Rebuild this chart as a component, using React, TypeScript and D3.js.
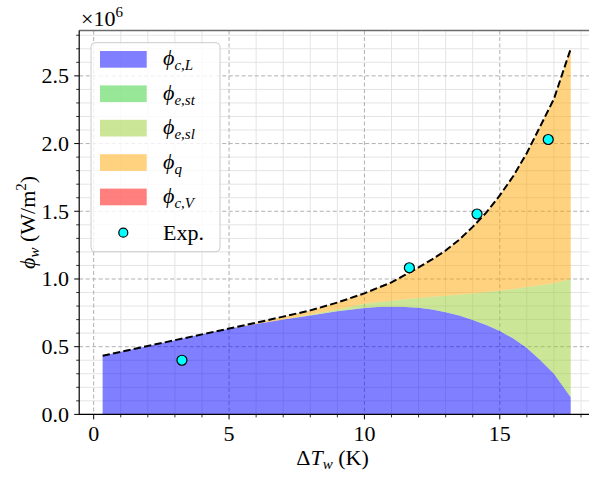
import React from "react";
import * as d3 from "d3";

const xVals = [0.33, 1, 2, 3, 4, 5, 6, 7, 8, 9, 10, 10.5, 11, 11.5, 12, 12.5, 13, 13.5, 14, 14.5, 15, 15.5, 16, 16.5, 17, 17.62];
const phiCL = [0.433, 0.462, 0.505, 0.548, 0.591, 0.632, 0.668, 0.700, 0.730, 0.762, 0.785, 0.793, 0.795, 0.793, 0.787, 0.774, 0.755, 0.730, 0.698, 0.660, 0.616, 0.560, 0.490, 0.400, 0.300, 0.126];
const phiESt = [0, 0, 0, 0, 0, 0, 0, 0, 0, 0, 0, 0, 0, 0, 0, 0, 0, 0, 0, 0, 0, 0, 0, 0, 0, 0];
const phiESl = [0, 0, 0, 0, 0, 0, 0, 0.001, 0.005, 0.013, 0.033, 0.037, 0.045, 0.057, 0.073, 0.095, 0.122, 0.155, 0.195, 0.244, 0.298, 0.366, 0.450, 0.553, 0.668, 0.874];
const phiQ = [0, 0, 0, 0, 0, 0.002, 0.009, 0.021, 0.033, 0.051, 0.076, 0.105, 0.135, 0.180, 0.225, 0.276, 0.333, 0.405, 0.492, 0.586, 0.703, 0.834, 0.990, 1.177, 1.362, 1.700];
const phiCV = [0, 0, 0, 0, 0, 0, 0, 0, 0, 0, 0, 0, 0, 0, 0, 0, 0, 0, 0, 0, 0, 0, 0, 0, 0, 0];

const expX = [3.26, 11.66, 14.16, 16.79];
const expY = [0.40, 1.083, 1.48, 2.03];

const xMajor = [0, 5, 10, 15];
const yMajor = [0, 0.5, 1.0, 1.5, 2.0, 2.5];
const yTickLabels = ["0.0", "0.5", "1.0", "1.5", "2.0", "2.5"];

const series = [
  { values: phiCL, color: "#0000ff", sub: "c,L" },
  { values: phiESt, color: "#32cd32", sub: "e,st" },
  { values: phiESl, color: "#9acd32", sub: "e,sl" },
  { values: phiQ, color: "#ffa500", sub: "q" },
  { values: phiCV, color: "#ff0000", sub: "c,V" },
];

const W = 589;
const H = 480;
const FONT = "'Liberation Serif', 'DejaVu Serif', serif";
const FS = 22;
const SUB = 15;

export default function App() {
  const x = d3.scaleLinear().domain([-0.535, 18.48]).range([79.2, 594]);
  const y = d3.scaleLinear().domain([0, 2.835]).range([414.4, 30.5]);
  const [x0, x1] = x.range();
  const [yb, yt] = y.range();

  const n = xVals.length;
  const base = new Array(n).fill(0);
  const layers = series.map((s) => {
    const lo = base.slice();
    const hi = lo.map((v, i) => v + s.values[i]);
    for (let i = 0; i < n; i++) base[i] = hi[i];
    return { ...s, lo, hi };
  });
  const total = base.slice();

  const xMinor = d3.range(0, 19, 1).filter((v) => !xMajor.includes(v));
  const yMinor = d3
    .range(0, 29, 1)
    .map((v) => v / 10)
    .filter((v) => !yMajor.some((m) => Math.abs(m - v) < 1e-9) && v <= 2.83);

  const line = d3
    .line<number>()
    .x((_, i) => x(xVals[i]))
    .y((v) => y(v));

  const legendRows = [0, 1, 2, 3, 4];
  const rowY = (k: number) => 59.3 + k * 34.4;

  return (
    <svg width={W} height={H} style={{ position: "absolute", left: 0, top: 0, background: "#fff", fontFamily: FONT }}>
      <defs>
        <clipPath id="plotclip">
          <rect x={x0} y={yt} width={x1 - x0} height={yb - yt} />
        </clipPath>
      </defs>
      <g clipPath="url(#plotclip)">
        {xMinor.map((v) => (
          <line key={"xm" + v} x1={x(v)} x2={x(v)} y1={yt} y2={yb} stroke="#e4e4e4" strokeWidth={1} />
        ))}
        {yMinor.map((v) => (
          <line key={"ym" + v} x1={x0} x2={x1} y1={y(v)} y2={y(v)} stroke="#e4e4e4" strokeWidth={1} />
        ))}
        {xMajor.map((v) => (
          <line key={"xM" + v} x1={x(v)} x2={x(v)} y1={yt} y2={yb} stroke="#b0b0b0" strokeWidth={1} strokeDasharray="4,2.5" />
        ))}
        {yMajor.map((v) => (
          <line key={"yM" + v} x1={x0} x2={x1} y1={y(v)} y2={y(v)} stroke="#b0b0b0" strokeWidth={1} strokeDasharray="4,2.5" />
        ))}
        {layers.map((l, k) => {
          const a = d3
            .area<number>()
            .x((_, i) => x(xVals[i]))
            .y0((_, i) => y(l.lo[i]))
            .y1((_, i) => y(l.hi[i]));
          return <path key={"a" + k} d={a(xVals) || ""} fill={l.color} fillOpacity={0.5} stroke="none" />;
        })}
        <path d={line(total) || ""} fill="none" stroke="#000" strokeWidth={2} strokeDasharray="7.4,3.2" />
        {expX.map((v, i) => (
          <circle key={"e" + i} cx={x(v)} cy={y(expY[i])} r={5} fill="#00ffff" stroke="#000" strokeWidth={1.2} />
        ))}
      </g>
      <line x1={x0} x2={x1} y1={yt} y2={yt} stroke="#6b6b6b" strokeWidth={1.6} />
      <line x1={x1} x2={x1} y1={yt} y2={yb} stroke="#6b6b6b" strokeWidth={1.6} />
      <line x1={x0} x2={x0} y1={yt} y2={yb + 0.5} stroke="#000" strokeWidth={1.2} />
      <line x1={x0} x2={x1} y1={yb} y2={yb} stroke="#000" strokeWidth={1.2} />
      {xMajor.map((v) => (
        <g key={"xt" + v}>
          <line x1={x(v)} x2={x(v)} y1={yb} y2={yb + 5} stroke="#000" strokeWidth={1} />
          <text x={x(v)} y={441} textAnchor="middle" fontSize={FS}>{v}</text>
        </g>
      ))}
      {xMinor.map((v) => (
        <line key={"xmt" + v} x1={x(v)} x2={x(v)} y1={yb} y2={yb + 3} stroke="#000" strokeWidth={0.8} />
      ))}
      {yMajor.map((v, i) => (
        <g key={"yt" + v}>
          <line x1={x0 - 5} x2={x0} y1={y(v)} y2={y(v)} stroke="#000" strokeWidth={1} />
          <text x={69} y={y(v) + 7.3} textAnchor="end" fontSize={FS}>{yTickLabels[i]}</text>
        </g>
      ))}
      {yMinor.map((v) => (
        <line key={"ymt" + v} x1={x0 - 3} x2={x0} y1={y(v)} y2={y(v)} stroke="#000" strokeWidth={0.8} />
      ))}
      <text x={81} y={26} fontSize={FS}>
        ×10<tspan fontSize={SUB} dy={-9}>6</tspan>
      </text>
      <text x={(x0 + x1) / 2 - 4} y={465} textAnchor="middle" fontSize={FS}>
        Δ<tspan fontStyle="italic">T</tspan>
        <tspan fontStyle="italic" fontSize={SUB} dy={4}>w</tspan>
        <tspan dy={-4}> (K)</tspan>
      </text>
      <text transform={`translate(35,${(yt + yb) / 2}) rotate(-90)`} textAnchor="middle" fontSize={FS}>
        <tspan fontStyle="italic">ϕ</tspan>
        <tspan fontStyle="italic" fontSize={SUB} dy={4}>w</tspan>
        <tspan dy={-4}> (W/m</tspan>
        <tspan fontSize={SUB} dy={-9}>2</tspan>
        <tspan dy={9}>)</tspan>
      </text>
      <rect x={91} y={42.7} width={129} height={209} rx={4} fill="#fff" fillOpacity={0.8} stroke="#cccccc" strokeWidth={1} />
      {legendRows.map((k) => (
        <g key={"lg" + k}>
          <rect x={100} y={rowY(k) - 8.3} width={46.7} height={16.7} fill={series[k].color} fillOpacity={0.5} />
          <text x={163} y={rowY(k) + 6} fontSize={FS}>
            <tspan fontStyle="italic">ϕ</tspan>
            <tspan fontStyle="italic" fontSize={SUB} dy={5}>{series[k].sub}</tspan>
          </text>
        </g>
      ))}
      <circle cx={123.3} cy={232.7} r={4.5} fill="#00ffff" stroke="#000" strokeWidth={1.2} />
      <text x={163} y={240} fontSize={FS}>Exp.</text>
    </svg>
  );
}
